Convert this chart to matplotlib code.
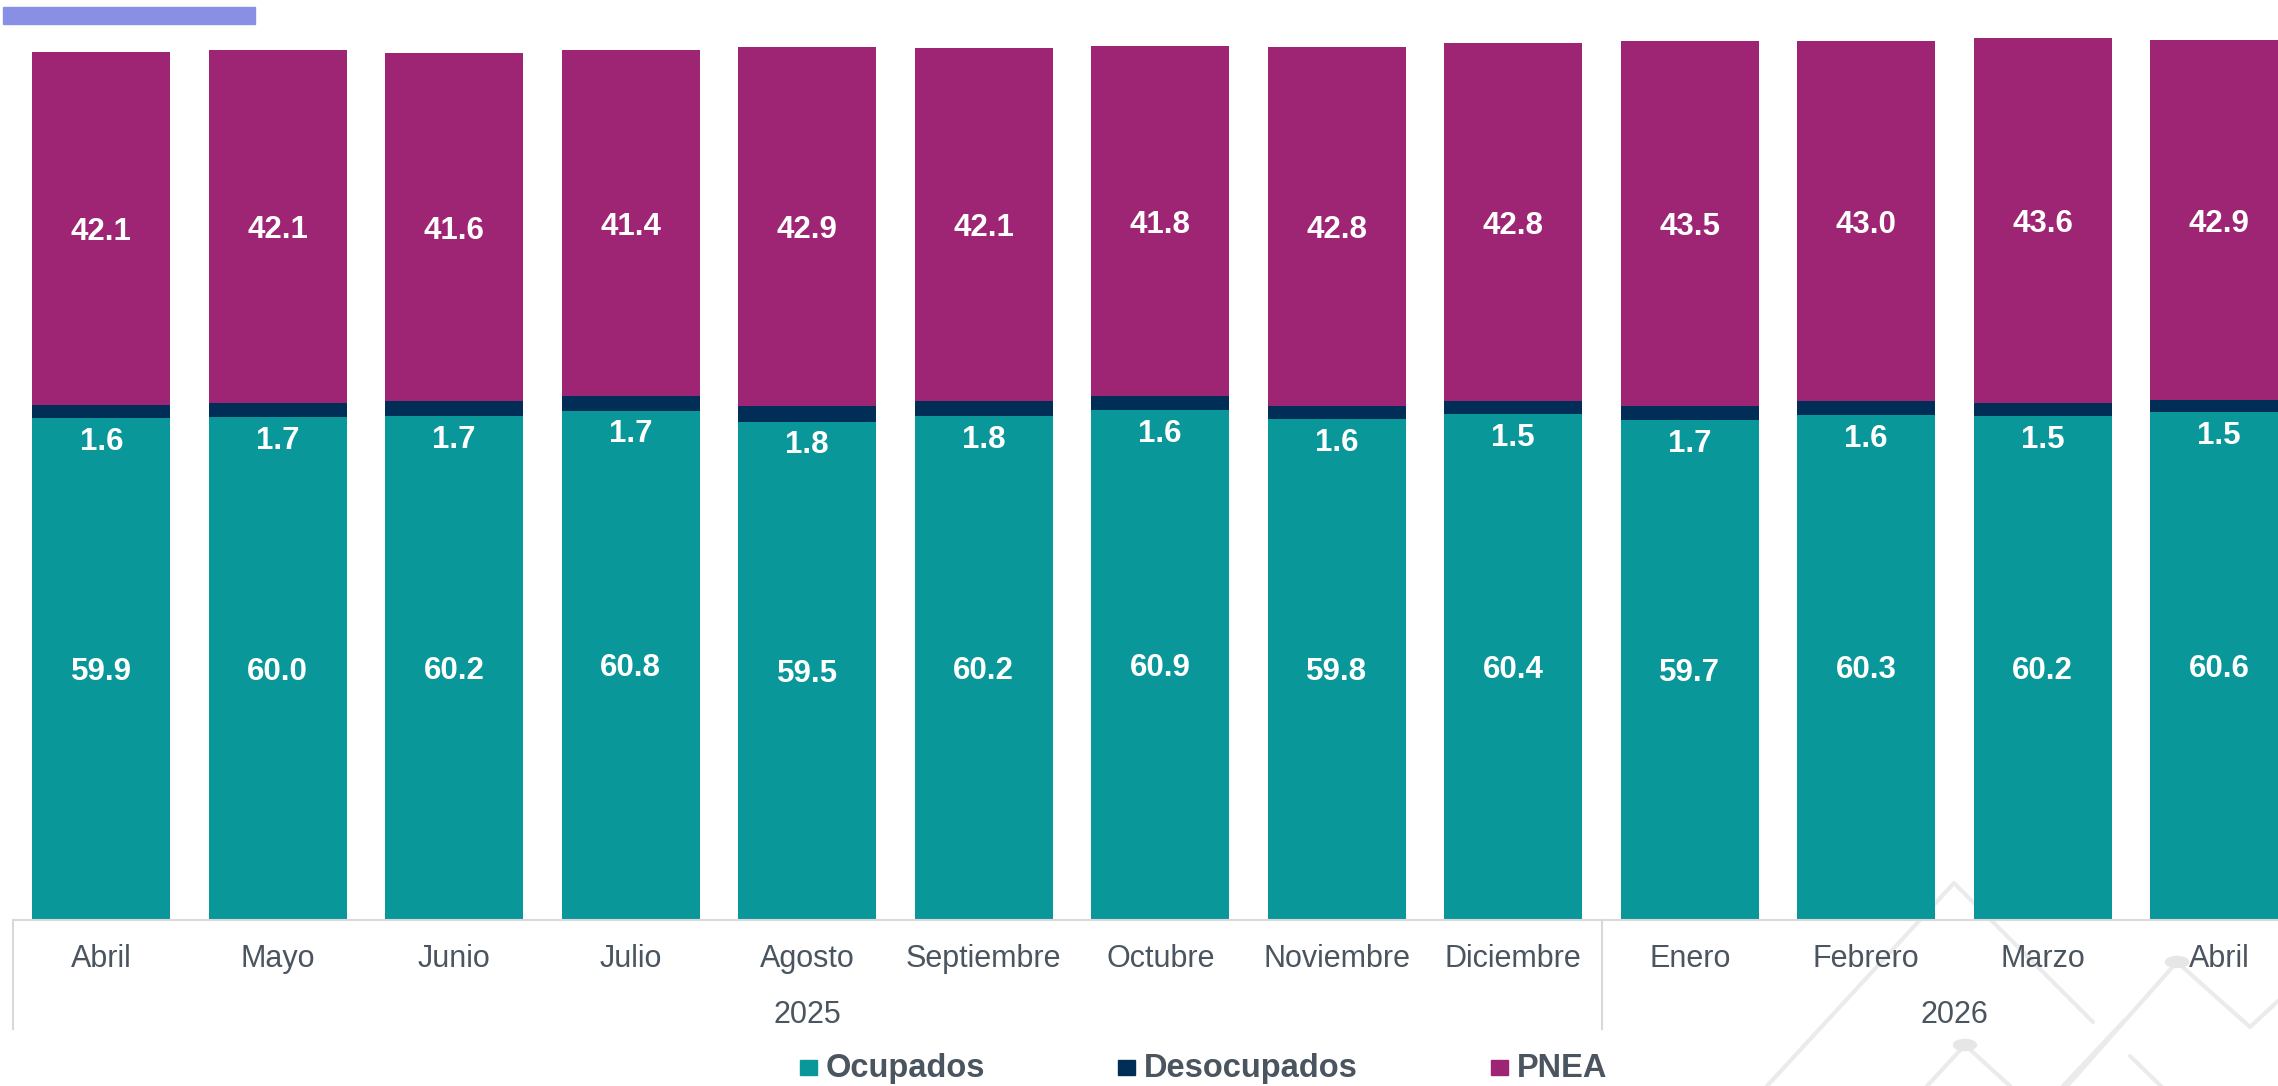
import matplotlib
matplotlib.use("Agg")
import matplotlib.pyplot as plt
from matplotlib.lines import Line2D
from matplotlib.patches import Rectangle, Circle
import numpy as np

plt.rcParams['font.family'] = ['Liberation Sans', 'DejaVu Sans']

# datos (millones de personas)
meses = ['Abril', 'Mayo', 'Junio', 'Julio', 'Agosto', 'Septiembre', 'Octubre',
         'Noviembre', 'Diciembre', 'Enero', 'Febrero', 'Marzo', 'Abril']
anios = ['2025', '2026']
meses_por_anio = [9, 4]
ocupados = [59.9, 60.0, 60.2, 60.8, 59.5, 60.2, 60.9, 59.8, 60.4, 59.7, 60.3, 60.2, 60.6]
desocupados = [1.6, 1.7, 1.7, 1.7, 1.8, 1.8, 1.6, 1.6, 1.5, 1.7, 1.6, 1.5, 1.5]
pnea = [42.1, 42.1, 41.6, 41.4, 42.9, 42.1, 41.8, 42.8, 42.8, 43.5, 43.0, 43.6, 42.9]

c_ocu = '#09979A'
c_des = '#002E56'
c_pnea = '#9E2574'
c_txt = '#4A5560'
c_grid = '#D9D9D9'

W, H = 2278, 1086
fig = plt.figure(figsize=(W / 100, H / 100), dpi=100)
fig.patch.set_facecolor('white')


def px(x, y):
    # pixel desde arriba-izquierda -> fraccion de figura
    return x / W, 1 - y / H


# marca de agua (lineas grises)
wm = [[(1767, 1086), (1954, 883), (2093, 1022)],
      [(1927, 1086), (1965, 1045), (2010, 1086)],
      [(2063, 1086), (2125, 1020)],
      [(2067, 1086), (2177, 962), (2250, 1027), (2290, 990)],
      [(2130, 1056), (2165, 1090)]]
for seg in wm:
    xs = [p[0] / W for p in seg]
    ys = [1 - p[1] / H for p in seg]
    fig.add_artist(Line2D(xs, ys, color='#EBEBEB', lw=3, zorder=-5,
                          solid_capstyle='round', transform=fig.transFigure))
for cx, cy in [(1965, 1045), (2177, 962)]:
    fig.add_artist(Circle(px(cx, cy), 11.5 / W, color='#E6E6E6', zorder=-4,
                          transform=fig.transFigure))

# barra decorativa superior
x0, y0 = px(3, 24)
fig.add_artist(Rectangle((x0, y0), 252 / W, 17 / H, color='#8A8FE6',
                         transform=fig.transFigure))

ax = fig.add_axes([13 / W, 166 / H, 13 * 176.5 / W, 920 / H])
ax.patch.set_visible(False)

x = np.arange(len(meses))
ocu = np.array(ocupados)
des = np.array(desocupados)
pne = np.array(pnea)
bw = 0.782

ax.bar(x, ocu, bw, color=c_ocu, zorder=2)
ax.bar(x, des, bw, bottom=ocu, color=c_des, zorder=2)
ax.bar(x, pne, bw, bottom=ocu + des, color=c_pnea, zorder=2)

lab = dict(color='white', fontsize=22.5, fontweight='bold', ha='center', va='center', zorder=3)
for i in range(len(x)):
    ax.text(x[i], ocu[i] / 2 - 0.35, f'{ocu[i]:.1f}', **lab)
    ax.text(x[i], ocu[i] - 2.85, f'{des[i]:.1f}', **lab)
    ax.text(x[i], ocu[i] + des[i] + pne[i] / 2 - 0.45, f'{pne[i]:.1f}', **lab)

ax.set_xlim(-0.5, 12.5)
ax.set_ylim(0, 920 / 8.378)
ax.set_yticks([])
ax.set_xticks([])
for s in ['top', 'right', 'left']:
    ax.spines[s].set_visible(False)
ax.spines['bottom'].set_color(c_grid)
ax.spines['bottom'].set_linewidth(1.5)

tr = ax.get_xaxis_transform()
for i, m in enumerate(meses):
    ax.text(x[i], -0.0511, m, transform=tr, ha='center', va='baseline',
            fontsize=22, color=c_txt)

start = 0
for a, n in zip(anios, meses_por_anio):
    ax.text(start + (n - 1) / 2, -0.112, a, transform=tr, ha='center',
            va='baseline', fontsize=22, color=c_txt)
    ax.plot([start - 0.5, start - 0.5], [0, -0.1185], transform=tr,
            color=c_grid, lw=1.5, clip_on=False)
    start += n

# leyenda
items = [('Ocupados', c_ocu, 800), ('Desocupados', c_des, 1118), ('PNEA', c_pnea, 1491)]
for name, col, lx in items:
    rx, ry = px(lx, 1075)
    fig.add_artist(Rectangle((rx, ry), 17 / W, 15 / H, color=col,
                             transform=fig.transFigure))
    tx, ty = px(lx + 26, 1077)
    fig.text(tx, ty, name, fontsize=23.5, fontweight='bold', color=c_txt,
             ha='left', va='baseline')

fig.savefig('out.png', dpi=100)
